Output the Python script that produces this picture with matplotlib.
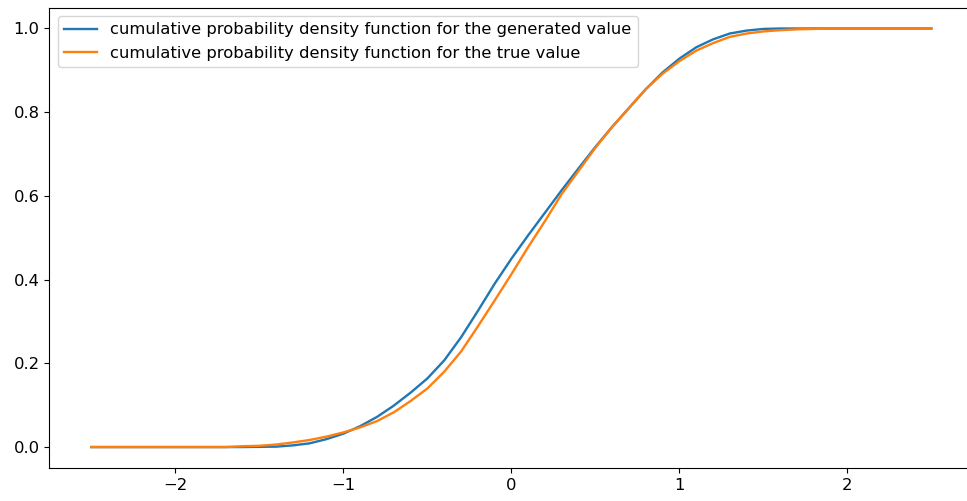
import numpy as np
import matplotlib
matplotlib.use("Agg")
import matplotlib.pyplot as plt

plt.rcParams['font.size'] = 11.8

# x grid (step 0.1 from -2.5 to 2.5)
x_values = [-2.5, -2.4, -2.3, -2.2, -2.1, -2.0, -1.9, -1.8, -1.7, -1.6,
            -1.5, -1.4, -1.3, -1.2, -1.1, -1.0, -0.9, -0.8, -0.7, -0.6,
            -0.5, -0.4, -0.3, -0.2, -0.1, 0.0, 0.1, 0.2, 0.3, 0.4,
            0.5, 0.6, 0.7, 0.8, 0.9, 1.0, 1.1, 1.2, 1.3, 1.4,
            1.5, 1.6, 1.7, 1.8, 1.9, 2.0, 2.1, 2.2, 2.3, 2.4, 2.5]

# cdf of generated values
cdf_generated = [0, 0, 0, 0, 0, 0, 0, 0, 0, 0,
                 0.0005, 0.001, 0.004, 0.009, 0.019, 0.032, 0.05, 0.072, 0.099, 0.13,
                 0.164, 0.207, 0.262, 0.325, 0.39, 0.45, 0.506, 0.56, 0.614, 0.666,
                 0.717, 0.765, 0.81, 0.855, 0.895, 0.928, 0.955, 0.974, 0.988, 0.995,
                 0.999, 1.0, 1.0, 1.0, 1.0, 1.0, 1.0, 1.0, 1.0, 1.0, 1.0]

# cdf of true values
cdf_true = [0, 0, 0, 0, 0, 0, 0, 0, 0, 0.002,
            0.003, 0.006, 0.011, 0.017, 0.025, 0.035, 0.047, 0.062, 0.083, 0.11,
            0.14, 0.18, 0.228, 0.288, 0.35, 0.413, 0.478, 0.54, 0.605, 0.66,
            0.715, 0.765, 0.81, 0.855, 0.892, 0.922, 0.947, 0.965, 0.98, 0.988,
            0.993, 0.996, 0.998, 0.999, 1.0, 1.0, 1.0, 1.0, 1.0, 1.0, 1.0]

fig = plt.figure(figsize=(9.67, 5.01), dpi=100)
# axes run a bit past the right edge (the reference is cropped there)
ax = fig.add_axes([0.0511, 0.0659, 0.9555, 0.919])
ax.spines['right'].set_visible(False)

ax.plot(x_values, cdf_generated, lw=1.7,
        label="cumulative probability density function for the generated value")
ax.plot(x_values, cdf_true, lw=1.7,
        label="cumulative probability density function for the true value")
ax.legend(loc="upper left")

fig.savefig("out.png", dpi=100)
